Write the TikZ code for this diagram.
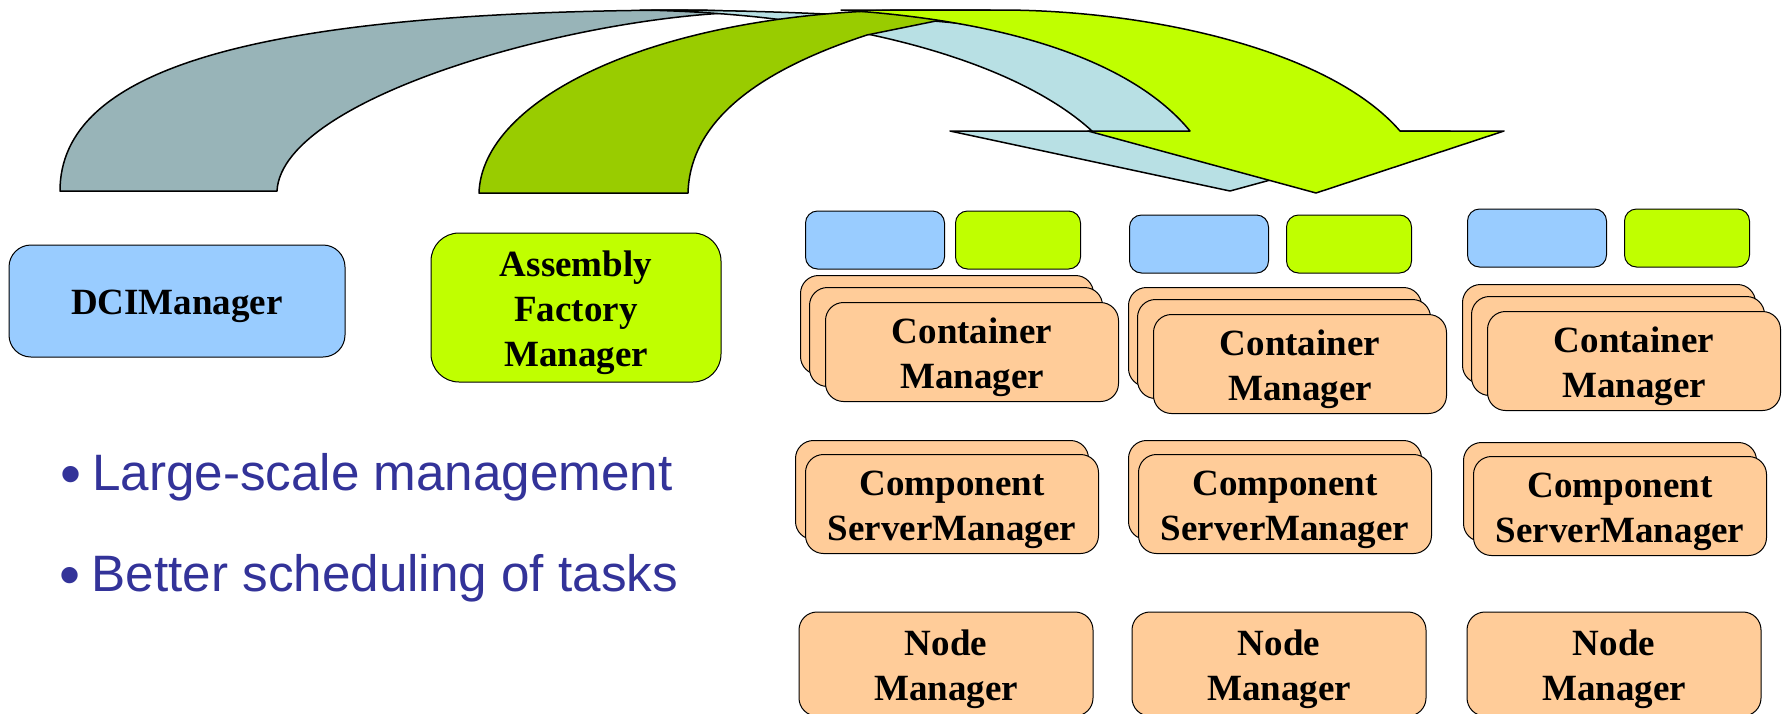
\documentclass[tikz,border=0pt]{standalone}
\usepackage{fontspec}
\setmainfont{Liberation Serif}
\newfontfamily\bulletfont{Liberation Sans}
\usepackage{xcolor}
\usepackage{tikz}

\definecolor{dciblue}{HTML}{99CCFF}
\definecolor{lime}{HTML}{C0FF00}
\definecolor{peach}{HTML}{FFCC99}
\definecolor{greyband}{HTML}{98B4B8}
\definecolor{paleband}{HTML}{B8E0E4}
\definecolor{darklime}{HTML}{99CC00}
\definecolor{bulletblue}{HTML}{333399}
\newcommand{\firstline}{\rule{0pt}{36pt}}

\begin{document}
\begin{tikzpicture}[x=1pt, y=-1pt,
    band/.style={draw, line width=1.5pt, line join=round},
    smallbox/.style={draw, line width=1pt, rounded corners=12pt, minimum height=58pt, inner sep=0pt},
    mgrbox/.style={draw, line width=1pt, rounded corners=18pt, fill=peach, minimum width=293pt, minimum height=99pt, inner sep=0pt, align=center, font=\fontsize{37}{45}\selectfont\bfseries},
    bullettext/.style={anchor=base west, inner sep=0pt, text=bulletblue, font=\bulletfont\fontsize{51.2}{60}\selectfont},
    bulletdot/.style={bullettext, font=\bulletfont\fontsize{60}{60}\selectfont}]
    \path[use as bounding box, fill=white] (0,0) rectangle (1784,713);
    % Grey arrow
    \draw[band, fill=greyband] (60,191) .. controls (60,70) and (250,10) .. (700,10) -- (760,12) .. controls (590,12) and (282,95) .. (277,191) -- cycle;
    \draw[band, fill=paleband] (640,10) .. controls (1000,10) and (1250,50) .. (1290,131) -- (1450,131) -- (1230,191) -- (950,131) -- (1092,131) .. controls (1020,65) and (860,14) .. (640,10) -- cycle;
    % Green arrow
    \draw[band, fill=darklime] (479,193) .. controls (482,100) and (650,15) .. (900,10) -- (990,10) -- (867,35) .. controls (760,70) and (690,120) .. (688,193) -- cycle;
    \draw[band, fill=lime] (841,10) -- (1000,10) .. controls (1150,10) and (1330,50) .. (1400,131) -- (1504,131) -- (1316,193) -- (1088,131) -- (1190,131) .. controls (1140,70) and (1030,22) .. (841,10) -- cycle;
    % Managers
    \node[mgrbox, fill=dciblue, minimum width=336pt, minimum height=112pt, rounded corners=22pt] (dci) at (177,301) {\firstline DCIManager};
    \node[mgrbox, fill=lime, minimum width=290pt, minimum height=149pt, rounded corners=28pt] (afm) at (576,307.5) {\firstline Assembly\\Factory\\Manager};
    % Bullets
    \node[bulletdot] (dotA) at (60,494) {\textbullet};
    \node[bullettext] (pointA) at (92,490.7) {Large-scale management};
    \node[bulletdot] (dotB) at (59,595) {\textbullet};
    \node[bullettext] (pointB) at (91.5,591.7) {Better scheduling of tasks};
    % Columns
    \foreach \c/\bx/\by/\gx/\gy/\fx/\fy/\sx/\sy/\nx in {1/875/240/1018/240/972/352/952/504/946, 2/1199/244/1349/244/1300/364/1285/504/1279, 3/1537/238/1687/238/1634/361/1620/506/1614} {
        \node[smallbox, fill=dciblue, minimum width=139pt] (blue\c) at (\bx,\by) {};
        \node[smallbox, fill=lime, minimum width=125pt] (lime\c) at (\gx,\gy) {};
        % Container Manager stack
        \node[mgrbox] (cmback\c) at ({\fx-25},{\fy-27}) {};
        \node[mgrbox] (cmmid\c) at ({\fx-16},{\fy-15}) {};
        \node[mgrbox] (cm\c) at (\fx,\fy) {\firstline Container\\Manager};
        % Component ServerManager stack
        \node[mgrbox] (csmback\c) at ({\sx-10},{\sy-14}) {};
        \node[mgrbox] (csm\c) at (\sx,\sy) {\firstline Component\\ServerManager};
        % Node Manager
        \node[mgrbox, minimum width=294pt, minimum height=104pt] (nm\c) at (\nx,664) {\firstline Node\\Manager};
    }
\end{tikzpicture}
\end{document}
